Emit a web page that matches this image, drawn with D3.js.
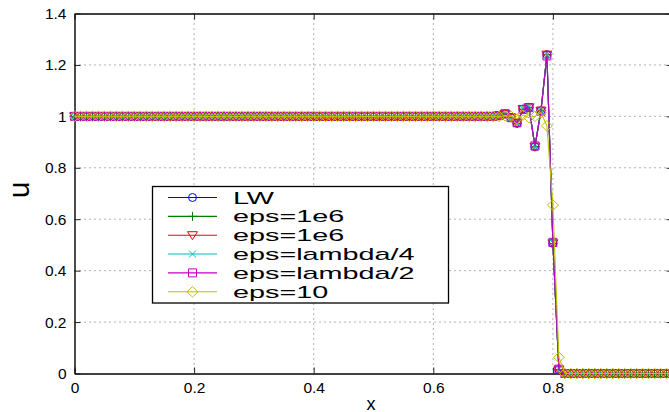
<!DOCTYPE html>
<html><head><meta charset="utf-8">
<script src="https://cdn.jsdelivr.net/npm/d3@7"></script>
<style>
html,body{margin:0;padding:0;background:#fff;}
svg{display:block;font-family:"Liberation Sans",Arial,Helvetica,sans-serif;}
</style></head>
<body><svg id="c" width="669" height="412"></svg>
<script>
// ---- data ----
const xValues = [0,0.01,0.02,0.03,0.04,0.05,0.06,0.07,0.08,0.09,0.1,0.11,0.12,0.13,0.14,0.15,0.16,0.17,0.18,0.19,0.2,0.21,0.22,0.23,0.24,0.25,0.26,0.27,0.28,0.29,0.3,0.31,0.32,0.33,0.34,0.35,0.36,0.37,0.38,0.39,0.4,0.41,0.42,0.43,0.44,0.45,0.46,0.47,0.48,0.49,0.5,0.51,0.52,0.53,0.54,0.55,0.56,0.57,0.58,0.59,0.6,0.61,0.62,0.63,0.64,0.65,0.66,0.67,0.68,0.69,0.7,0.71,0.72,0.73,0.74,0.75,0.76,0.77,0.78,0.79,0.8,0.81,0.82,0.83,0.84,0.85,0.86,0.87,0.88,0.89,0.9,0.91,0.92,0.93,0.94,0.95,0.96,0.97,0.98,0.99,1];
const ones71 = [1,1,1,1,1,1,1,1,1,1,1,1,1,1,1,1,1,1,1,1,1,1,1,1,1,1,1,1,1,1,1,1,1,1,1,1,1,1,1,1,1,1,1,1,1,1,1,1,1,1,1,1,1,1,1,1,1,1,1,1,1,1,1,1,1,1,1,1,1,1,1];
const zeros19 = [0,0,0,0,0,0,0,0,0,0,0,0,0,0,0,0,0,0,0];
const lwShock      = [1.003,1.01,0.995,0.973,1.028,1.035,0.882,1.022,1.24,0.506,0.015];
const eps1e6aShock = [1.003,1.01,0.995,0.973,1.028,1.035,0.882,1.022,1.24,0.506,0.015];
const eps1e6bShock = [1.003,1.01,0.995,0.973,1.028,1.035,0.882,1.022,1.24,0.506,0.015];
const lam4Shock    = [1.003,1.01,0.995,0.973,1.028,1.035,0.882,1.022,1.238,0.508,0.016];
const lam2Shock    = [1.003,1.01,0.995,0.975,1.027,1.034,0.885,1.02,1.235,0.51,0.017];
const eps10Shock   = [1.0,1.002,1.0,0.99,1.005,0.995,1.0,1.015,0.963,0.655,0.063];
const seriesNames  = ["LW","eps=1e6","eps=1e6","eps=lambda/4","eps=lambda/2","eps=10"];
const seriesColors = ["#0000ff","#008000","#ff0000","#00bfbf","#bf00bf","#bfbf00"];
const seriesMarkers= ["circle","plus","triDown","cross","square","diamond"];
const seriesShock  = [lwShock,eps1e6aShock,eps1e6bShock,lam4Shock,lam2Shock,eps10Shock];
const xTicks = [0,0.2,0.4,0.6,0.8,1];
const yTicks = [0,0.2,0.4,0.6,0.8,1,1.2,1.4];
const xLabel = "x", yLabel = "u";

// ---- layout ----
const svg = d3.select("#c");
const L = 74.5, R = 672.5, T = 13.5, B = 373.5;
const x = d3.scaleLinear().domain([0,1]).range([L,R]);
const y = d3.scaleLinear().domain([0,1.4]).range([B,T]);
const fmt = d => d3.format("~g")(d);

// grid
const grid = svg.append("g");
grid.selectAll(".gx").data(xTicks.slice(1,-1)).join("line")
  .attr("x1",d=>x(d)).attr("x2",d=>x(d)).attr("y1",T).attr("y2",B)
  .attr("stroke","#555").attr("stroke-width",0.9).attr("stroke-dasharray","1,4");
grid.selectAll(".gy").data(yTicks.slice(1,-1)).join("line")
  .attr("x1",L).attr("x2",R).attr("y1",d=>y(d)).attr("y2",d=>y(d))
  .attr("stroke","#555").attr("stroke-width",0.9).attr("stroke-dasharray","1,4");

// axes
function styleAxis(g){
  g.selectAll(".domain").attr("stroke","#000").attr("stroke-width",1.4);
  g.selectAll(".tick line").attr("stroke","#222").attr("stroke-width",1);
  g.selectAll(".tick text").attr("fill","#000").style("font-size","15.5px")
    .style("font-family","'Liberation Sans',Arial,sans-serif");
}
svg.append("g").attr("transform",`translate(0,${B})`)
  .call(d3.axisBottom(x).tickValues(xTicks).tickFormat(fmt).tickSize(-6).tickSizeOuter(0).tickPadding(8))
  .call(styleAxis);
svg.append("g").attr("transform",`translate(0,${T})`)
  .call(d3.axisTop(x).tickValues(xTicks).tickFormat("").tickSize(-6).tickSizeOuter(0))
  .call(styleAxis);
svg.append("g").attr("transform",`translate(${L},0)`)
  .call(d3.axisLeft(y).tickValues(yTicks).tickFormat(fmt).tickSize(-6).tickSizeOuter(0).tickPadding(8))
  .call(styleAxis);
svg.append("g").attr("transform",`translate(${R},0)`)
  .call(d3.axisRight(y).tickValues(yTicks).tickFormat("").tickSize(-6).tickSizeOuter(0))
  .call(styleAxis);

// labels
svg.append("text").attr("x",371).attr("y",409.5).attr("text-anchor","middle")
  .style("font-size","18px").text(xLabel);
svg.append("text").attr("transform","translate(29,190) rotate(-90)").attr("text-anchor","middle")
  .style("font-size","30px").text(yLabel);

// markers
function markerPath(type){
  switch(type){
    case "circle": return d3.symbol(d3.symbolCircle, 50)();
    case "plus": return "M-4.5,0H4.5M0,-4.5V4.5";
    case "triDown": return "M-5,-3.5L5,-3.5L0,4.5Z";
    case "cross": return "M-3.5,-3.5L3.5,3.5M-3.5,3.5L3.5,-3.5";
    case "square": return "M-4,-4H4V4H-4Z";
    case "diamond": return "M0,-5.2L5.5,0L0,5.2L-5.5,0Z";
  }
}

// series
const line = d3.line().x(d=>x(d[0])).y(d=>y(d[1]));
const plot = svg.append("g");
seriesNames.forEach((name,i)=>{
  const vals = ones71.concat(seriesShock[i], zeros19);
  const pts = xValues.map((xv,j)=>[xv, vals[j]]);
  const g = plot.append("g");
  g.append("path").attr("d",line(pts)).attr("fill","none")
    .attr("stroke",seriesColors[i]).attr("stroke-width",1.1);
  g.selectAll("path.m").data(pts).join("path").attr("class","m")
    .attr("transform",d=>`translate(${x(d[0])},${y(d[1])})`)
    .attr("d",markerPath(seriesMarkers[i])).attr("fill","none")
    .attr("stroke",seriesColors[i]).attr("stroke-width",1);
});

// legend
const lg = svg.append("g");
lg.append("rect").attr("x",152.5).attr("y",186.5).attr("width",296).attr("height",116.5)
  .attr("fill","#fff").attr("stroke","#000").attr("stroke-width",1.3);
seriesNames.forEach((name,i)=>{
  const cy = 197.5 + i*18.85;
  lg.append("line").attr("x1",168).attr("x2",217).attr("y1",cy).attr("y2",cy)
    .attr("stroke",seriesColors[i]).attr("stroke-width",1.1);
  lg.append("path").attr("transform",`translate(192.5,${cy})`).attr("d",markerPath(seriesMarkers[i]))
    .attr("fill","none").attr("stroke",seriesColors[i]).attr("stroke-width",1);
  lg.append("text").attr("transform",`translate(233,${cy+6}) scale(1.8,1)`)
    .style("font-size","16px").attr("fill","#000").text(name);
});
</script></body></html>
